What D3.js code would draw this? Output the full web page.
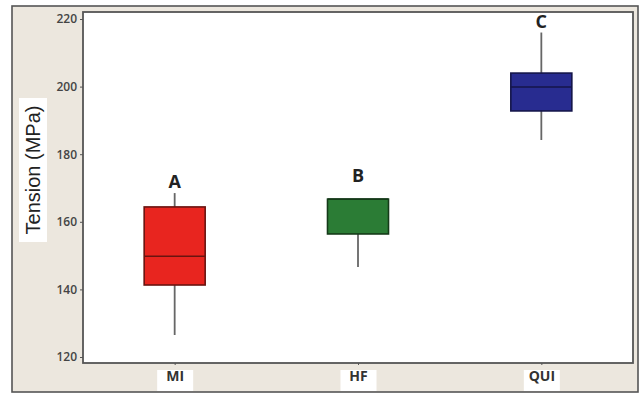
<!DOCTYPE html>
<html>
<head>
<meta charset="utf-8">
<script src="https://cdn.jsdelivr.net/npm/d3@7"></script>
<style>
  html, body { margin: 0; padding: 0; background: #fff; }
  svg { display: block; }
</style>
</head>
<body>
<svg id="chart" width="643" height="395"></svg>
<script>
// Box-plot summaries per group (MPa)
const categories = ["MI", "HF", "QUI"];
const whiskerLow  = [126.5, 146.6, 184.2];
const q1          = [141.3, 156.4, 192.8];
const median      = [149.8, 166.7, 199.9];
const q3          = [164.4, 166.7, 204.0];
const whiskerHigh = [168.5, 166.7, 216.0];
const groupLetters = ["A", "B", "C"];
const letterAt     = [170.0, 171.8, 217.3];   // baseline of each grouping letter, in MPa
const fills   = ["#e8251f", "#2b7c35", "#282c90"];
const strokes = ["#6a1410", "#143a18", "#14154a"];
const yTicks = [120, 140, 160, 180, 200, 220];
const yLabel = "Tension (MPa)";

const svg = d3.select("#chart");
const plot = { left: 83, right: 633, top: 12, bottom: 363 };

// Outer panel
svg.append("rect").attr("x", 12).attr("y", 6).attr("width", 626).attr("height", 386)
  .attr("fill", "#ece7de").attr("stroke", "#555").attr("stroke-width", 1.6);

// Plot area
svg.append("rect").attr("x", plot.left).attr("y", plot.top)
  .attr("width", plot.right - plot.left).attr("height", plot.bottom - plot.top)
  .attr("fill", "#fff");

const x = d3.scalePoint().domain(categories).range([plot.left, plot.right]).padding(0.5);
const y = d3.scaleLinear().domain([120, 220]).range([357, 19]);

// Y axis
const yAxis = svg.append("g").attr("transform", `translate(${plot.left},0)`)
  .call(d3.axisLeft(y).tickValues(yTicks).tickSize(3).tickPadding(3));
yAxis.select(".domain").remove();
yAxis.selectAll("line").attr("stroke", "#555");
yAxis.selectAll("text").attr("fill", "#444").attr("font-family", "Open Sans, sans-serif")
  .attr("font-size", 12).attr("font-weight", 600);

// X axis labels with light backing
const xAxis = svg.append("g").attr("transform", `translate(0,${plot.bottom})`)
  .call(d3.axisBottom(x).tickSize(2).tickPadding(6));
xAxis.select(".domain").remove();
xAxis.selectAll("line").attr("stroke", "#555");
xAxis.selectAll(".tick").insert("rect", "text")
  .attr("x", -18).attr("y", 7).attr("width", 36).attr("height", 21).attr("fill", "#fff");
xAxis.selectAll("text").attr("fill", "#333").attr("font-family", "Open Sans, sans-serif")
  .attr("font-size", 14).attr("font-weight", 700);

// Plot frame
svg.append("rect").attr("x", plot.left).attr("y", plot.top)
  .attr("width", plot.right - plot.left).attr("height", plot.bottom - plot.top)
  .attr("fill", "none").attr("stroke", "#555").attr("stroke-width", 1.8);

// Y axis title with white backing
const yt = svg.append("g").attr("transform", "translate(33,170) rotate(-90)");
yt.append("rect").attr("x", -72).attr("y", -14).attr("width", 144).attr("height", 28).attr("fill", "#fff");
yt.append("text").attr("text-anchor", "middle").attr("dy", "0.35em")
  .attr("font-family", "Liberation Sans, Arial, sans-serif").attr("font-size", 20).attr("fill", "#222")
  .text(yLabel);

// Boxes
const boxW = 61;
const groups = svg.append("g").selectAll("g").data(categories).join("g");
groups.append("line")
  .attr("x1", d => x(d)).attr("x2", d => x(d))
  .attr("y1", (d, i) => y(whiskerLow[i])).attr("y2", (d, i) => y(whiskerHigh[i]))
  .attr("stroke", "#666").attr("stroke-width", 1.8);
groups.append("rect")
  .attr("x", d => x(d) - boxW / 2).attr("width", boxW)
  .attr("y", (d, i) => y(q3[i])).attr("height", (d, i) => y(q1[i]) - y(q3[i]))
  .attr("fill", (d, i) => fills[i]).attr("stroke", (d, i) => strokes[i]).attr("stroke-width", 1.6);
groups.append("line")
  .attr("x1", d => x(d) - boxW / 2).attr("x2", d => x(d) + boxW / 2)
  .attr("y1", (d, i) => y(median[i])).attr("y2", (d, i) => y(median[i]))
  .attr("stroke", (d, i) => strokes[i]).attr("stroke-width", 1.6);
groups.append("text")
  .attr("x", d => x(d)).attr("y", (d, i) => y(letterAt[i]))
  .attr("text-anchor", "middle")
  .attr("font-family", "Open Sans, sans-serif").attr("font-size", 18).attr("font-weight", 700)
  .attr("fill", "#222")
  .text((d, i) => groupLetters[i]);
</script>
</body>
</html>
